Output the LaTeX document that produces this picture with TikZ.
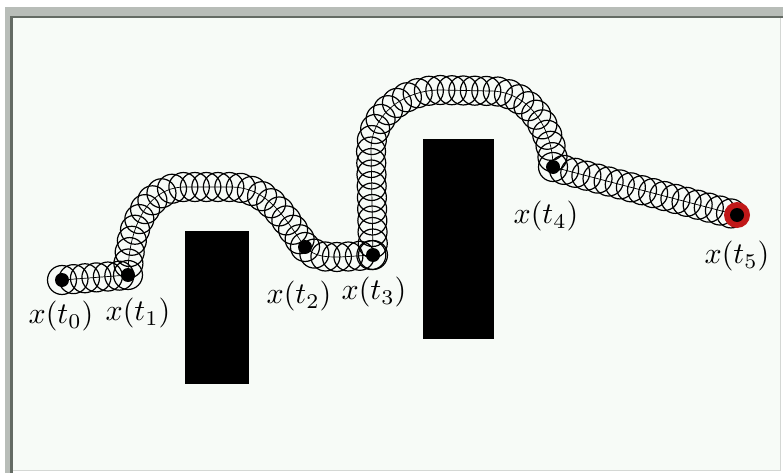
\documentclass[tikz,border=0pt]{standalone}
\usetikzlibrary{decorations.markings}
\definecolor{bgc}{HTML}{F7FBF7}
\definecolor{framelight}{HTML}{B8BDB8}
\definecolor{framedark}{HTML}{646B64}
\definecolor{dotred}{HTML}{C01818}
\tikzset{
  dot/.style={circle,fill=black,inner sep=0pt,minimum size=14pt},
  lab/.style={scale=3.0,inner sep=0pt},
  obstacle/.style={fill=black},
  tube/.style={decorate,decoration={markings,
     mark=between positions 0 and 1 step 11.5pt with {\pgftransformresetnontranslations
        \draw[black,line width=1.2pt] (0,0) circle[radius=14.5pt];}}},
  midline/.style={draw=black,line width=0.7pt}
}
\begin{document}
\begin{tikzpicture}[x=1pt,y=-1pt]
\useasboundingbox (0,0) rectangle (783,473);
\fill[white] (0,0) rectangle (783,473);
% frame
\fill[framelight] (5,7) rectangle (783,16);
\fill[framelight] (5,7) rectangle (10,473);
\fill[bgc] (13,18) rectangle (780,470);
\fill[framedark] (10,16) rectangle (783,18.5);
\fill[framedark] (10,16) rectangle (13,473);
\draw[framelight!60,line width=1pt] (780.5,18) -- (780.5,470.5) -- (13,470.5);
% obstacles
\fill[obstacle] (185,231) rectangle (249,384);
\fill[obstacle] (423,139) rectangle (494,339);
% points
\coordinate (t0) at (62,280);
\coordinate (t1) at (128,275);
\coordinate (t2) at (305,247);
\coordinate (t3) at (373,255);
\coordinate (t4) at (553,167);
\coordinate (t5) at (737,215);
% tube of circles, segment by segment
\foreach \seg in {
  {(t0) -- (t1)},
  {(t1) to[out=90,in=180] (185,187) -- (230,187) to[out=0,in=125] (t2)},
  {(t2) to[out=-45,in=180] (340,257) -- (t3)},
  {(t3) -- (371,150) to[out=90,in=180] (440,90) -- (490,91) to[out=0,in=90] (t4)},
  {(t4) -- (t5)}}{
  \path[tube] \seg;
  \path[midline] \seg;
}
% red end
\fill[dotred] (t5) circle (13pt);
% dots
\node[dot] (d0) at (t0) {};
\node[dot] (d1) at (t1) {};
\node[dot] (d2) at (t2) {};
\node[dot] (d3) at (t3) {};
\node[dot] (d4) at (t4) {};
\node[dot] (d5) at (t5) {};
% labels
\node[lab] (l0) at (61,316) {$x(t_0)$};
\node[lab] (l1) at (138,313) {$x(t_1)$};
\node[lab] (l2) at (299,296) {$x(t_2)$};
\node[lab] (l3) at (374,292) {$x(t_3)$};
\node[lab] (l4) at (546,216) {$x(t_4)$};
\node[lab] (l5) at (737,256) {$x(t_5)$};
\end{tikzpicture}
\end{document}
